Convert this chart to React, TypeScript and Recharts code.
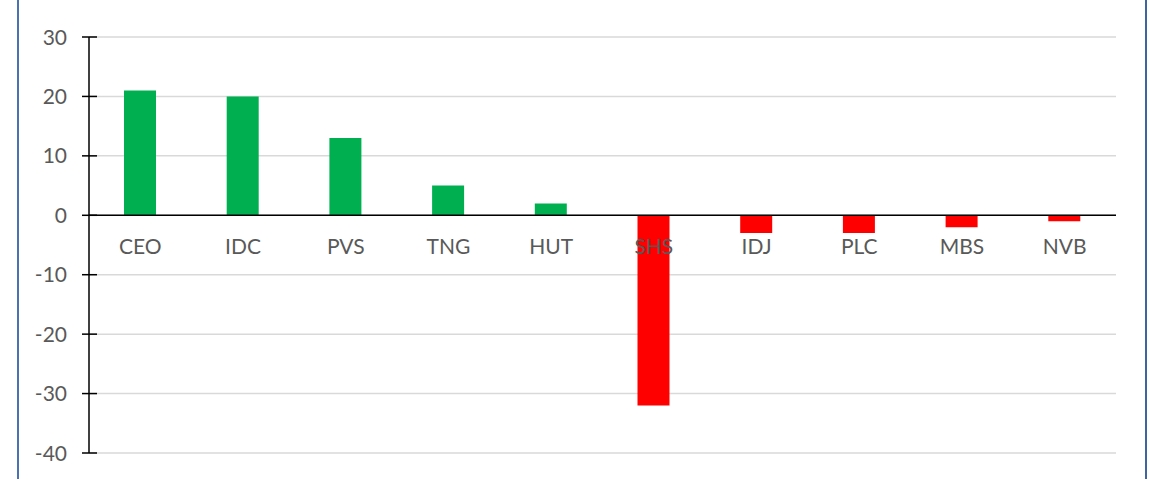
import { BarChart, Bar, XAxis, YAxis, CartesianGrid, ReferenceLine, Cell } from 'recharts'

const tickers = ['CEO', 'IDC', 'PVS', 'TNG', 'HUT', 'SHS', 'IDJ', 'PLC', 'MBS', 'NVB']
const netValues = [21, 20, 13, 5, 2, -32, -3, -3, -2, -1]
const yTicks = [30, 20, 10, 0, -10, -20, -30, -40]

const data = tickers.map((name, i) => ({ name, value: netValues[i] }))

const FONT = 'Lato, "Open Sans", sans-serif'
const PLOT_TOP = 37
const PLOT_BOTTOM = 453
const Y_MAX = 30
const Y_MIN = -40

// recharts hands the tick x already shifted left by tickSize + tickMargin (6 + 2)
function renderYTick(props: any) {
  const { x, y, payload } = props
  const axisX = x + 8
  return (
    <g key={`yt-${payload.value}`}>
      <line x1={axisX - 7} x2={axisX + 8} y1={y} y2={y} stroke="#000" strokeWidth={1.5} />
      <text x={axisX - 22} y={y} dy={7.5} textAnchor="end" fontSize={21} fill="#595959" fontFamily={FONT}>
        {payload.value}
      </text>
    </g>
  )
}

function renderXTick(props: any) {
  const { x, payload } = props
  const zeroY = PLOT_TOP + ((PLOT_BOTTOM - PLOT_TOP) * Y_MAX) / (Y_MAX - Y_MIN)
  return (
    <text key={`xt-${payload.value}`} x={x} y={zeroY + 39} textAnchor="middle" fontSize={21} fill="#595959" fontFamily={FONT}>
      {payload.value}
    </text>
  )
}

export default function App() {
  return (
    <div style={{ position: 'absolute', left: 0, top: 0, width: 1160, height: 479, background: '#fff' }}>
      <div style={{ position: 'absolute', left: 17, top: 0, width: 2, height: 479, background: '#4a72b0' }} />
      <div style={{ position: 'absolute', left: 1145, top: 0, width: 2, height: 479, background: '#3f65a0' }} />
      <BarChart
        width={1160}
        height={479}
        data={data}
        margin={{ top: PLOT_TOP, right: 44, bottom: 0, left: 0 }}
        style={{ position: 'absolute', left: 0, top: 0 }}
      >
        <CartesianGrid horizontal vertical={false} stroke="#d9d9d9" strokeWidth={1.5} />
        <XAxis
          dataKey="name"
          height={479 - PLOT_BOTTOM}
          axisLine={false}
          tickLine={false}
          tick={renderXTick}
          interval={0}
        />
        <YAxis
          width={89}
          domain={[Y_MIN, Y_MAX]}
          ticks={yTicks}
          interval={0}
          axisLine={{ stroke: '#000', strokeWidth: 1.5 }}
          tickLine={false}
          tick={renderYTick}
        />
        <ReferenceLine y={0} stroke="#000" strokeWidth={1.5} />
        <Bar dataKey="value" barSize={32} isAnimationActive={false}>
          {data.map((d, i) => (
            <Cell key={`c-${i}`} fill={d.value >= 0 ? '#00b050' : '#ff0000'} />
          ))}
        </Bar>
      </BarChart>
    </div>
  )
}
